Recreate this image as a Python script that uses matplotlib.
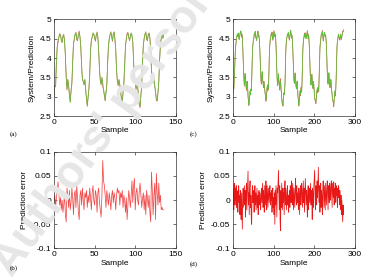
"""
System vs prediction and prediction error, two data sets
"""
import numpy as np
import matplotlib
matplotlib.use("Agg")
import matplotlib.pyplot as plt


#   ///////   data   ///////
# data set 1: measured system output (green)
sys1 = [
    3.00, 3.30, 3.25, 3.90, 4.30, 4.45, 4.55, 4.62, 4.60, 4.45, 4.40, 4.55, 4.60, 4.45, 4.05, 3.50, 3.20, 3.45, 3.30, 3.05, 2.85, 3.15,
    3.35, 3.90, 4.35, 4.50, 4.62, 4.65, 4.50, 4.45, 4.60, 4.66, 4.55, 4.30, 3.80, 3.45, 3.40, 3.30, 3.45, 3.20, 2.95, 2.75, 3.00,
    3.20, 3.60, 4.20, 4.45, 4.55, 4.65, 4.62, 4.50, 4.45, 4.60, 4.65, 4.55, 4.20, 3.70, 3.40, 3.30, 3.50, 3.35, 3.20, 3.05, 2.90, 3.10,
    3.30, 3.85, 4.30, 4.50, 4.60, 4.66, 4.55, 4.45, 4.62, 4.68, 4.50, 4.20, 3.70, 3.40, 3.30, 3.45, 3.30, 3.15, 2.95, 2.85, 3.10,
    3.35, 3.80, 4.30, 4.50, 4.60, 4.65, 4.55, 4.45, 4.55, 4.65, 4.60, 4.40, 3.90, 3.45, 3.35, 3.20, 3.40, 3.25, 3.00, 2.80, 2.75, 3.05,
    3.30, 3.90, 4.35, 4.50, 4.62, 4.65, 4.50, 4.45, 4.60, 4.65, 4.50, 4.20, 3.70, 3.40, 3.35, 3.50, 3.30, 3.10, 2.95, 2.90, 3.10,
    3.40, 3.95, 4.35, 4.50, 4.62, 4.50, 4.60,
]
# data set 1: prediction error (system - prediction)
err1 = [
    -0.005, 0.010, -0.015, 0.005, 0.020, 0.038, 0.015, -0.010, 0.005, -0.020,
    0.000, -0.025, -0.010, 0.015, -0.030, -0.045, 0.025, 0.010, -0.015, 0.020,
    -0.020, -0.005, 0.025, 0.005, -0.030, 0.010, 0.020, -0.015, 0.030, 0.005,
    -0.025, -0.040, 0.010, 0.020, -0.010, 0.025, 0.000, -0.020, 0.015, 0.005,
    0.020, -0.015, 0.010, -0.005, 0.025, 0.005, -0.020, 0.015, 0.030, 0.000,
    -0.010, 0.020, 0.010, -0.025, 0.015, 0.025, -0.005, -0.020, -0.035, 0.010,
    0.082, 0.040, 0.030, 0.010, -0.015, 0.020, 0.005, -0.010, 0.015, 0.000,
    -0.020, 0.010, 0.020, -0.005, 0.015, 0.005, -0.020, 0.010, 0.025, 0.015,
    0.020, -0.010, 0.015, 0.005, 0.020, -0.015, 0.010, 0.000, -0.025, 0.005,
    -0.040, -0.010, 0.020, 0.005, -0.015, 0.010, 0.040, -0.005, 0.030, 0.045,
    -0.020, 0.015, 0.025, 0.000, -0.010, 0.020, 0.035, 0.010, -0.015, 0.005,
    0.015, -0.020, 0.010, -0.030, 0.020, 0.005, -0.015, 0.010, -0.025, -0.045,
    0.058, 0.020, -0.030, 0.010, 0.035, -0.040, 0.055, 0.015, -0.010, 0.035,
    -0.005, 0.010, -0.020, -0.015, -0.020, -0.020,
]

# data set 2: measured system output (green)
sys2 = [
    3.10, 3.30, 3.20, 3.45,
    3.70, 4.00, 4.25, 4.35, 4.45, 4.52, 4.60, 4.62, 4.55, 4.65,
    4.58, 4.48, 4.52, 4.60, 4.66, 4.70, 4.62, 4.55, 4.60, 4.50,
    4.30, 4.00, 3.65, 3.45, 3.30, 3.50, 3.60, 3.45, 3.30, 3.20,
    3.35, 3.40, 3.25, 3.05, 2.90, 2.78, 2.85, 3.00, 3.15, 3.05,
    3.20, 3.15,
    3.40, 3.85, 4.20, 4.35, 4.45, 4.50, 4.58, 4.65, 4.60, 4.68,
    4.55, 4.50, 4.45, 4.55, 4.62, 4.70, 4.65, 4.55, 4.58, 4.45,
    4.25, 3.95, 3.60, 3.40, 3.35, 3.55, 3.65, 3.45, 3.35, 3.25,
    3.40, 3.30, 3.20, 3.10, 3.00, 2.92, 2.95, 3.10, 3.25, 3.15,
    3.30, 3.20,
    3.45, 3.90, 4.25, 4.40, 4.50, 4.55, 4.62, 4.60, 4.65, 4.55,
    4.48, 4.52, 4.62, 4.68, 4.60, 4.55, 4.62, 4.50, 4.30, 3.95,
    3.60, 3.40, 3.30, 3.45, 3.60, 3.40, 3.30, 3.20, 3.35, 3.40,
    3.25, 3.10, 2.95, 2.85, 2.80, 2.78, 2.95, 3.10, 3.05, 3.20,
    3.35, 3.80, 4.20, 4.38, 4.48, 4.55, 4.62, 4.58, 4.66, 4.60,
    4.50, 4.48, 4.55, 4.65, 4.72, 4.62, 4.55, 4.60, 4.50, 4.30,
    4.00, 3.65, 3.45, 3.35, 3.50, 3.62, 3.45, 3.30, 3.20, 3.35,
    3.40, 3.20, 3.00, 2.88, 2.78, 2.85, 3.00, 3.15, 3.05, 3.20,
    3.25, 3.15,
    3.40, 3.85, 4.25, 4.40, 4.50, 4.58, 4.62, 4.55, 4.65, 4.60,
    4.50, 4.55, 4.62, 4.68, 4.60, 4.52, 4.60, 4.48, 4.28, 3.95,
    3.60, 3.40, 3.30, 3.48, 3.58, 3.42, 3.30, 3.22, 3.38, 3.30,
    3.15, 3.00, 2.92, 2.88, 2.85, 2.95, 3.10, 3.20, 3.10, 3.25,
    3.20, 3.15,
    3.45, 3.90, 4.25, 4.40, 4.50, 4.58, 4.65, 4.60, 4.68, 4.58,
    4.48, 4.50, 4.60, 4.66, 4.62, 4.55, 4.60, 4.50, 4.30, 3.98,
    3.62, 3.42, 3.32, 3.50, 3.62, 3.45, 3.32, 3.25, 3.40, 3.45,
    3.30, 3.15, 3.05, 2.95, 2.90, 2.85, 2.78, 2.90, 3.05, 3.15,
    3.05, 3.20,
    3.50, 3.95, 4.30, 4.42, 4.50, 4.58, 4.62, 4.55, 4.50, 4.48,
    4.55, 4.60, 4.52, 4.48, 4.55, 4.62, 4.65, 4.68, 4.70,
]
# data set 2: prediction error
err2 = [
    0.030, 0.010, -0.020, 0.035, 0.020, -0.010, 0.025, 0.000, 0.030, -0.015,
    0.020, 0.005, -0.025, 0.015, 0.030, -0.005, 0.010, -0.030, 0.020, 0.000,
    -0.040, 0.015, -0.020, -0.060, 0.010, 0.025, -0.015, 0.005, 0.030, -0.010,
    0.020, -0.035, 0.010, 0.035, -0.020, 0.005, 0.025, 0.060, -0.010, 0.015,
    -0.030, 0.020, 0.040, -0.015, 0.010, -0.040, -0.050, 0.015, 0.030, -0.005,
    0.020, 0.005, -0.025, 0.010, 0.030, -0.010, 0.015, -0.020, 0.000, 0.025,
    -0.015, 0.010, -0.030, 0.005, 0.020, -0.010, 0.015, 0.000, -0.020, 0.010,
    0.025, -0.005, 0.015, 0.035, -0.015, 0.020, 0.005, -0.025, 0.030, 0.010,
    -0.010, 0.040, 0.020, -0.020, 0.030, 0.005, -0.015, 0.025, 0.010, -0.005,
    0.020, 0.030, -0.010, 0.015, 0.000, 0.020, -0.025, 0.010, 0.025, -0.015,
    0.005, -0.030, 0.015, -0.050, 0.020, -0.010, 0.030, 0.000, -0.035, 0.025,
    0.015, 0.040, 0.062, 0.010, -0.020, 0.030, -0.045, -0.063, 0.020, -0.015,
    0.035, 0.010, -0.020, 0.025, -0.005, 0.015, -0.030, 0.020, 0.040, -0.010,
    0.025, 0.000, -0.020, 0.015, 0.030, -0.010, 0.010, -0.025, 0.005, 0.020,
    -0.015, 0.030, 0.015, -0.005, 0.040, 0.020, -0.010, 0.035, 0.010, -0.020,
    0.025, 0.005, -0.015, 0.020, 0.045, 0.010, -0.010, 0.030, -0.005, 0.015,
    0.000, -0.020, 0.025, 0.010, -0.030, 0.015, 0.030, -0.010, 0.005, 0.035,
    0.020, -0.015, 0.010, 0.040, -0.005, 0.025, -0.025, 0.010, 0.045, 0.015,
    -0.010, 0.020, 0.005, -0.035, 0.015, 0.030, -0.020, 0.010, 0.025, -0.005,
    0.015, 0.035, -0.010, 0.020, 0.005, -0.040, 0.025, 0.010, -0.015, 0.030,
    0.045, 0.062, 0.010, -0.020, 0.030, 0.015, -0.010, 0.040, 0.005, 0.020,
    0.068, 0.025, -0.005, 0.030, -0.025, 0.015, 0.035, -0.015, 0.020, 0.005,
    -0.030, 0.025, 0.040, 0.010, -0.015, 0.030, 0.005, -0.020, 0.035, 0.015,
    -0.010, 0.025, 0.040, 0.010, -0.020, 0.030, 0.015, -0.005, 0.035, 0.020,
    0.000, 0.030, 0.040, 0.010, -0.015, 0.035, 0.020, 0.005, 0.038, -0.010,
    0.025, 0.015, 0.035, -0.005, 0.030, 0.010, 0.020, -0.015, 0.025, 0.005,
    0.030, 0.015, -0.010, 0.020, 0.005, -0.020, 0.010, -0.030, 0.000, -0.025,
    -0.045, -0.010, -0.030,
]

xticks1 = [0, 50, 100, 150]
xticks2 = [0, 100, 200, 300]
yticks_sys = [2.5, 3, 3.5, 4, 4.5, 5]
ylabels_sys = ['2.5', '3', '3.5', '4', '4.5', '5']
yticks_err = [-0.1, -0.05, 0, 0.05, 0.1]
ylabels_err = ['-0.1', '-0.05', '0', '0.05', '0.1']
panel_tags = ['(a)', '(b)', '(c)', '(d)']
#   ///////     ///////

sys1 = np.array(sys1)
err1 = np.array(err1)
sys2 = np.array(sys2)
err2 = np.array(err2)
pred1 = sys1 - err1
pred2 = sys2 - err2
n1 = np.arange(len(sys1))
n2 = np.arange(len(sys2))

plt.rcParams['font.family'] = ['Liberation Sans', 'DejaVu Sans']
plt.rcParams['font.size'] = 6

RED = '#f26060'
GREEN = '#5cbf38'

fig = plt.figure(figsize=(3.66, 2.77), dpi=100)

# watermark behind the axes
fig.text(0.055, -0.025, "Authors' personal copy", rotation=54, fontsize=33,
         fontweight='bold', color='#e6e6e6', ha='left', va='bottom',
         rotation_mode='anchor', zorder=0)

W, H = 0.333, 0.349
axa = fig.add_axes([0.1475, 0.5812, W, H])
axc = fig.add_axes([0.6366, 0.5812, W, H])
axb = fig.add_axes([0.1475, 0.1029, W, H])
axd = fig.add_axes([0.6366, 0.1029, W, H])


def style(ax):
    ax.set_facecolor('none')
    ax.tick_params(direction='in', length=2, width=0.4, top=True, right=True,
                   labelsize=6, pad=2)
    for s in ax.spines.values():
        s.set_linewidth(0.5)
        s.set_color('#333333')


axa.plot(n1, pred1, color=RED, lw=0.55)
axa.plot(n1, sys1, color=GREEN, lw=0.55)
axa.set_xlim(0, 150)
axa.set_ylim(2.5, 5)
axa.set_xticks(xticks1)
axa.set_yticks(yticks_sys)
axa.set_yticklabels(ylabels_sys)

axc.plot(n2, pred2, color=RED, lw=0.55)
axc.plot(n2, sys2, color=GREEN, lw=0.55)
axc.set_xlim(0, 300)
axc.set_ylim(2.5, 5)
axc.set_xticks(xticks2)
axc.set_yticks(yticks_sys)
axc.set_yticklabels(ylabels_sys)

axb.plot(n1, err1, color='#f04848', lw=0.55)
axb.set_xlim(0, 150)
axb.set_ylim(-0.1, 0.1)
axb.set_xticks(xticks1)
axb.set_yticks(yticks_err)
axb.set_yticklabels(ylabels_err)

axd.plot(n2, err2, color='#e81818', lw=0.55)
axd.set_xlim(0, 300)
axd.set_ylim(-0.1, 0.1)
axd.set_xticks(xticks2)
axd.set_yticks(yticks_err)
axd.set_yticklabels(ylabels_err)

for ax in (axa, axc):
    style(ax)
    ax.set_ylabel('System/Prediction', fontsize=6, labelpad=3)
    ax.set_xlabel('Sample', fontsize=6, labelpad=1)
for ax in (axb, axd):
    style(ax)
    ax.set_ylabel('Prediction error', fontsize=6, labelpad=3)
    ax.set_xlabel('Sample', fontsize=6, labelpad=1)

# panel tags
tag_pos = [(10, 134), (10, 268), (190, 134), (190, 264)]
for tag, (px, py) in zip(panel_tags, tag_pos):
    fig.text(px / 366, 1 - py / 277, tag, family='Liberation Serif',
             fontsize=5, ha='left', va='center')

fig.savefig('out.png', dpi=100)
